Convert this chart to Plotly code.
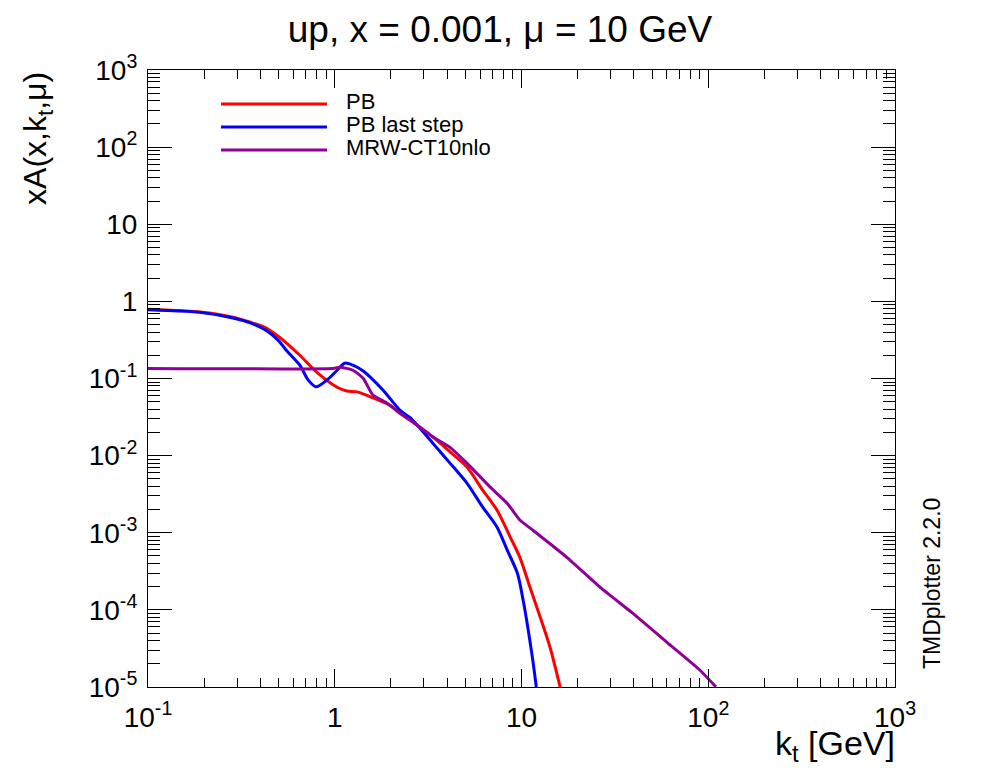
import plotly.graph_objects as go

# ---------------- data ----------------
pb_kt = [0.1, 0.15, 0.19, 0.285, 0.35, 0.43, 0.5, 0.55, 0.65, 0.80, 1.03, 1.16, 1.32, 1.60, 1.98,
         2.23, 2.53, 3.36, 4.14, 5.1, 6.2, 7.4, 8.7, 9.8, 11.1, 12.6, 14.2, 16.1]
pb_val = [0.79, 0.755, 0.73, 0.625, 0.54, 0.45, 0.35, 0.29, 0.20, 0.121, 0.077, 0.069, 0.067,
          0.056, 0.045, 0.0356, 0.029, 0.0174, 0.0112, 0.0071, 0.00357, 0.00196, 8.8e-4,
          4.8e-4, 1.97e-4, 8.0e-5, 3.3e-5, 1.0e-5]

last_kt = [0.1, 0.15, 0.19, 0.285, 0.35, 0.43, 0.5, 0.55, 0.65, 0.72, 0.795, 0.91, 1.03, 1.13,
           1.25, 1.42, 1.81, 2.23, 2.53, 3.36, 4.14, 5.1, 6.2, 7.4, 8.4, 9.5, 10.2, 10.8, 11.5,
           12.0]
last_val = [0.78, 0.75, 0.72, 0.61, 0.53, 0.42, 0.31, 0.233, 0.149, 0.096, 0.078, 0.096, 0.128,
            0.158, 0.149, 0.125, 0.071, 0.039, 0.031, 0.0144, 0.0080, 0.0044, 0.00215, 0.00118,
            5.9e-4, 3.0e-4, 1.34e-4, 6.0e-5, 2.2e-5, 1.0e-5]

mrw_kt = [0.1, 0.98, 1.07, 1.25, 1.42, 1.60, 1.90, 2.23, 2.53, 3.36, 4.14, 5.1, 6.8, 8.4, 9.8,
          11.5, 17.5, 26.3, 39.5, 60.1, 90.4, 110.0]
mrw_val = [0.135, 0.135, 0.14, 0.128, 0.101, 0.061, 0.048, 0.0356, 0.029, 0.0174, 0.0128, 0.008,
           0.0039, 0.0024, 0.00146, 0.00108, 4.8e-4, 1.97e-4, 9.0e-5, 3.8e-5, 1.65e-5, 1.0e-5]

series_names = ["PB", "PB last step", "MRW-CT10nlo"]
series_colors = ["#ff0000", "#0000ff", "#900098"]

x_tickvals = [0.1, 1, 10, 100, 1000]
x_ticktext = ["10<sup>-1</sup>", "1", "10", "10<sup>2</sup>", "10<sup>3</sup>"]
y_tickvals = [1e-5, 1e-4, 1e-3, 1e-2, 1e-1, 1, 10, 100, 1000]
y_ticktext = ["10<sup>-5</sup>", "10<sup>-4</sup>", "10<sup>-3</sup>", "10<sup>-2</sup>",
              "10<sup>-1</sup>", "1", "10", "10<sup>2</sup>", "10<sup>3</sup>"]

FONT = "Liberation Sans, Arial, Helvetica, sans-serif"

x_minor = [m * 10.0 ** e for e in range(-1, 3) for m in range(2, 10)]
y_minor = [m * 10.0 ** e for e in range(-5, 3) for m in range(2, 10)]

fig = go.Figure()
for xs, ys, name, col, sm in [(pb_kt, pb_val, series_names[0], series_colors[0], 0.8),
                              (last_kt, last_val, series_names[1], series_colors[1], 0.8),
                              (mrw_kt, mrw_val, series_names[2], series_colors[2], 0.5)]:
    fig.add_trace(go.Scatter(x=xs, y=ys, mode="lines", name=name,
                             line=dict(color=col, width=3, shape="spline", smoothing=sm),
                             showlegend=False))

axis_common = dict(type="log", showgrid=False, zeroline=False, showline=True,
                   linecolor="black", linewidth=1.2, mirror="ticks", ticks="inside",
                   tickcolor="black", tickwidth=1,
                   tickfont=dict(family=FONT, size=28, color="black"))

fig.update_xaxes(range=[-1, 3], tickmode="array", tickvals=x_tickvals, ticktext=x_ticktext,
                 ticklen=18, ticklabelstandoff=5,
                 minor=dict(tickmode="array", tickvals=x_minor, ticks="inside", ticklen=9,
                            tickcolor="black", tickwidth=1),
                 **axis_common)
fig.update_yaxes(range=[-5, 3], tickmode="array", tickvals=y_tickvals, ticktext=y_ticktext,
                 ticklen=24, ticklabelstandoff=4,
                 minor=dict(tickmode="array", tickvals=y_minor, ticks="inside", ticklen=12,
                            tickcolor="black", tickwidth=1),
                 **axis_common)

# manual ROOT-style legend
leg_y = [0.9449, 0.9076, 0.8703]
for name, col, yy in zip(series_names, series_colors, leg_y):
    fig.add_shape(type="line", xref="paper", yref="paper", x0=0.0977, x1=0.2396, y0=yy, y1=yy,
                  line=dict(color=col, width=3))
    fig.add_annotation(xref="paper", yref="paper", x=0.262, y=yy + 0.004, text=name,
                       showarrow=False, xanchor="left", yanchor="middle",
                       font=dict(family=FONT, size=22, color="black"))

# axis titles
fig.add_annotation(xref="paper", yref="paper", x=1.003, y=-0.095, text="k<sub>t</sub> [GeV]",
                   showarrow=False, xanchor="right", yanchor="middle",
                   font=dict(family=FONT, size=34, color="black"))
fig.add_annotation(xref="paper", yref="paper", x=-0.148, y=1.0, text="xA(x,k<sub>t</sub>,μ)",
                   showarrow=False, textangle=-90, xanchor="center", yanchor="top",
                   font=dict(family=FONT, size=32, color="black"))
fig.add_annotation(xref="paper", yref="paper", x=1.0495, y=0.1686, text="TMDplotter 2.2.0",
                   showarrow=False, textangle=-90, xanchor="center", yanchor="middle",
                   font=dict(family=FONT, size=23, color="black"))

# the page body adds an 8px offset, so the figure is 8px smaller in each direction
fig.update_layout(
    width=988, height=764, autosize=False,
    margin=dict(l=140, r=101, t=62, b=85),
    paper_bgcolor="white", plot_bgcolor="white",
    title=dict(text="up, x = 0.001, μ = 10 GeV", x=0.498, xref="container", xanchor="center",
               y=0.972, yref="container", yanchor="middle",
               font=dict(family=FONT, size=37, color="black")),
)

fig.write_html("out.html")
